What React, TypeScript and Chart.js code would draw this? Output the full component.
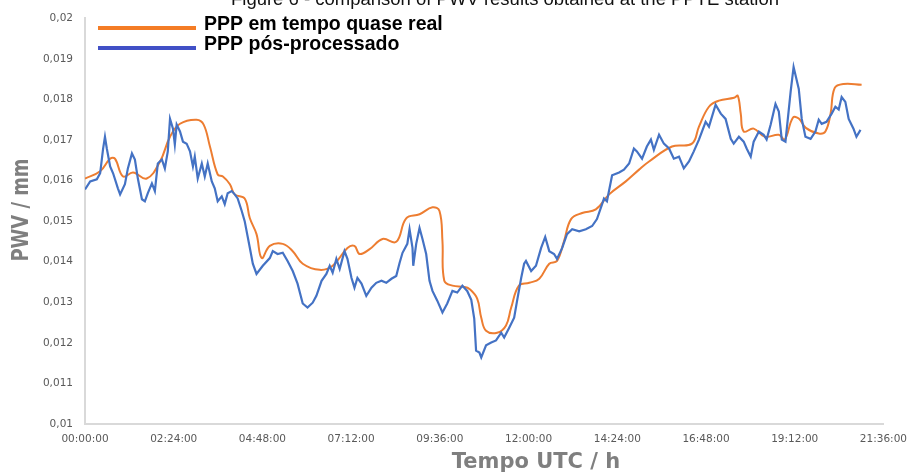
import React, { useEffect, useRef } from "react";
import { Chart, registerables } from "chart.js";

Chart.register(...registerables);

const figureTitle = "Figure 6 - comparison of PWV results obtained at the PPTE station";
const seriesNames = ["PPP em tempo quase real", "PPP pós-processado"];
const seriesColors = ["#ED7D31", "#4472C4"];
const legendColors = ["#F47C25", "#4150C6"];
const xAxisTitle = "Tempo UTC / h";
const yAxisTitle = "PWV / mm";

const xTickHours = [0, 2.4, 4.8, 7.2, 9.6, 12, 14.4, 16.8, 19.2, 21.6];
const yTickValues = [0.01, 0.011, 0.012, 0.013, 0.014, 0.015, 0.016, 0.017, 0.018, 0.019, 0.02];

// PPP em tempo quase real (hours UTC, PWV)
const realTimeHours = [
  0.0, 0.41, 0.68, 0.81, 1.03, 1.3, 1.67, 2.03, 2.3, 2.57, 3.02, 3.21, 3.38, 3.59, 3.73, 3.92,
  4.05, 4.32, 4.46, 4.64, 4.78, 5.0, 5.35, 5.62, 5.89, 6.35, 6.7, 7.1, 7.29, 7.43, 7.7, 8.05,
  8.42, 8.69, 9.05, 9.4, 9.59, 9.67, 9.72, 9.94, 10.26, 10.4, 10.61, 10.72, 10.85, 11.15, 11.39,
  11.53, 11.74, 12.02, 12.29, 12.56, 12.77, 12.96, 13.15, 13.45, 13.82, 14.18, 14.63, 14.99,
  15.26, 15.88, 16.42, 16.61, 16.88, 17.15, 17.56, 17.66, 17.74, 17.82, 18.09, 18.39, 18.77,
  18.93, 19.15, 19.31, 19.5, 19.85, 20.03, 20.17, 20.28, 20.52, 21.01,
];
const realTimePwv = [
  0.01605, 0.01623, 0.01654, 0.01654, 0.0161, 0.0162, 0.01605, 0.01647, 0.01708, 0.0174, 0.0175,
  0.01738, 0.01684, 0.01615, 0.0161, 0.01591, 0.01566, 0.01556, 0.01507, 0.01468, 0.01409,
  0.01439, 0.01444, 0.01426, 0.01395, 0.0138, 0.0139, 0.01434, 0.01439, 0.01419, 0.01431,
  0.01456, 0.01449, 0.01507, 0.01517, 0.01534, 0.01525, 0.01451, 0.01353, 0.01341, 0.01338,
  0.01333, 0.01309, 0.01262, 0.0123, 0.01225, 0.01243, 0.01287, 0.01341, 0.01348, 0.01358,
  0.01395, 0.01402, 0.01451, 0.01505, 0.0152, 0.01529, 0.01566, 0.01598, 0.01627, 0.01647,
  0.01684, 0.01691, 0.01733, 0.01782, 0.01797, 0.01804, 0.01809, 0.01765, 0.01721, 0.01728,
  0.01708, 0.01713, 0.01701, 0.01755, 0.01753, 0.0173, 0.01716, 0.01721, 0.01765, 0.01828,
  0.01838, 0.01836,
];

// PPP pós-processado (hours UTC, PWV)
const postHours = [
  0.0, 0.14, 0.32, 0.41, 0.49, 0.54, 0.59, 0.68, 0.76, 0.89, 0.95, 1.08, 1.16, 1.27, 1.35, 1.43,
  1.54, 1.62, 1.7, 1.81, 1.89, 1.97, 2.08, 2.16, 2.24, 2.3, 2.38, 2.43, 2.48, 2.57, 2.65, 2.75,
  2.84, 2.92, 2.97, 3.05, 3.16, 3.24, 3.32, 3.43, 3.51, 3.59, 3.7, 3.78, 3.86, 3.97, 4.05, 4.13,
  4.24, 4.32, 4.46, 4.54, 4.64, 4.81, 5.0, 5.08, 5.21, 5.35, 5.48, 5.62, 5.75, 5.89, 6.02, 6.16,
  6.26, 6.4, 6.53, 6.62, 6.7, 6.8, 6.89, 7.02, 7.1, 7.21, 7.29, 7.37, 7.48, 7.61, 7.75, 7.88,
  8.02, 8.15, 8.29, 8.42, 8.51, 8.59, 8.72, 8.78, 8.86, 8.88, 8.96, 9.05, 9.13, 9.23, 9.32, 9.4,
  9.53, 9.67, 9.8, 9.94, 10.07, 10.21, 10.34, 10.45, 10.53, 10.58, 10.67, 10.72, 10.85, 10.99,
  11.12, 11.26, 11.34, 11.48, 11.61, 11.69, 11.8, 11.88, 11.93, 12.07, 12.2, 12.34, 12.45, 12.56,
  12.69, 12.77, 12.91, 13.04, 13.18, 13.37, 13.55, 13.72, 13.85, 13.99, 14.04, 14.12, 14.26,
  14.45, 14.58, 14.72, 14.85, 14.93, 15.07, 15.2, 15.31, 15.39, 15.53, 15.66, 15.8, 15.93, 16.07,
  16.2, 16.34, 16.47, 16.61, 16.79, 16.88, 17.06, 17.2, 17.33, 17.47, 17.55, 17.69, 17.82, 17.9,
  18.01, 18.09, 18.23, 18.36, 18.44, 18.55, 18.68, 18.77, 18.85, 18.95, 19.09, 19.17, 19.31,
  19.39, 19.49, 19.63, 19.76, 19.85, 19.93, 20.06, 20.2, 20.3, 20.39, 20.47, 20.57, 20.66, 20.79,
  20.87, 20.98,
];
const postPwv = [
  0.01578, 0.01598, 0.01603, 0.01618, 0.01679, 0.01708, 0.01679, 0.01635, 0.01618, 0.01581,
  0.01566, 0.01591, 0.0163, 0.01667, 0.01652, 0.01605, 0.01554, 0.01549, 0.01569, 0.01593,
  0.01574, 0.01642, 0.01652, 0.0163, 0.01672, 0.01752, 0.01728, 0.01689, 0.01738, 0.01721,
  0.01696, 0.01691, 0.01672, 0.01635, 0.01659, 0.01605, 0.01642, 0.0161, 0.01642, 0.01598,
  0.01581, 0.01549, 0.01561, 0.01542, 0.01569, 0.01574, 0.01566, 0.01556, 0.01525, 0.015,
  0.01434, 0.01395, 0.0137, 0.0139, 0.01409, 0.01426, 0.01419, 0.01422, 0.01402, 0.01377,
  0.01346, 0.01297, 0.01287, 0.01299, 0.01316, 0.01353, 0.0137, 0.0139, 0.01373, 0.01407,
  0.01382, 0.01426, 0.01407, 0.0136, 0.01336, 0.0136, 0.01346, 0.01316, 0.01336, 0.01348,
  0.01353, 0.01348, 0.01358, 0.01365, 0.01397, 0.01422, 0.01444, 0.0148, 0.01434, 0.0139,
  0.01444, 0.01483, 0.01456, 0.01419, 0.01353, 0.01328, 0.01304, 0.01275, 0.01297, 0.01328,
  0.01324, 0.01341, 0.01328, 0.01306, 0.0126, 0.01181, 0.01176, 0.01164, 0.01194, 0.01201,
  0.01206, 0.01225, 0.01213, 0.01238, 0.01262, 0.01304, 0.0136, 0.01395, 0.01402, 0.01377,
  0.0139, 0.01434, 0.01461, 0.01426, 0.01419, 0.01407, 0.01434, 0.01468, 0.0148, 0.01475,
  0.0148, 0.01488, 0.01505, 0.01542, 0.01556, 0.01549, 0.01613, 0.0162, 0.01627, 0.01642,
  0.01679, 0.01672, 0.01654, 0.01684, 0.01701, 0.01676, 0.01713, 0.01691, 0.01679, 0.01654,
  0.01659, 0.0163, 0.01647, 0.01672, 0.01701, 0.01745, 0.01733, 0.01787, 0.01765, 0.01752,
  0.01703, 0.01691, 0.01708, 0.01696, 0.01679, 0.01659, 0.01696, 0.01721, 0.01713, 0.01701,
  0.01738, 0.01789, 0.0177, 0.01701, 0.01696, 0.01819, 0.0188, 0.01826, 0.01752, 0.01708,
  0.01703, 0.01721, 0.0175, 0.0174, 0.01745, 0.01765, 0.01782, 0.01775, 0.01806, 0.01794,
  0.01752, 0.01728, 0.01708, 0.01725,
];

const pad2 = (n: number) => (n < 10 ? "0" + n : "" + n);
const fmtHours = (h: number) => {
  const m = Math.round(h * 60);
  return `${pad2(Math.floor(m / 60))}:${pad2(m % 60)}:00`;
};
const fmtPwv = (v: number) => String(parseFloat(v.toFixed(4))).replace(".", ",");

function drawFit(ctx: CanvasRenderingContext2D, text: string, x: number, y: number, width: number) {
  const w = ctx.measureText(text).width;
  const s = w > 0 ? width / w : 1;
  ctx.save();
  ctx.translate(x, y);
  ctx.scale(s, 1);
  ctx.fillText(text, 0, 0);
  ctx.restore();
}

const decorPlugin = {
  id: "decor",
  afterDraw(chart: any) {
    const ctx: CanvasRenderingContext2D = chart.ctx;
    ctx.save();
    // cut-off figure caption
    ctx.fillStyle = "#111";
    ctx.font = '18.5px "Liberation Sans", Arial, sans-serif';
    ctx.textAlign = "center";
    ctx.textBaseline = "alphabetic";
    ctx.fillText(figureTitle, 505, 5);

    // legend
    const rows = [28, 48];
    ctx.textAlign = "left";
    ctx.font = 'bold 21px "Liberation Sans", Arial, sans-serif';
    seriesNames.forEach((name, i) => {
      ctx.strokeStyle = legendColors[i];
      ctx.lineWidth = 4;
      ctx.beginPath();
      ctx.moveTo(98, rows[i]);
      ctx.lineTo(196, rows[i]);
      ctx.stroke();
      ctx.fillStyle = "#000";
      ctx.textBaseline = "middle";
      const w = ctx.measureText(name).width;
      drawFit(ctx, name, 204, rows[i] - 4, w * 0.93);
    });

    // axis titles
    ctx.fillStyle = "#7F7F7F";
    ctx.font = 'bold 21px "DejaVu Sans", Verdana, sans-serif';
    ctx.textAlign = "center";
    ctx.textBaseline = "middle";
    ctx.fillText(xAxisTitle, 536, 463);

    ctx.save();
    ctx.translate(22, 210);
    ctx.rotate(-Math.PI / 2);
    ctx.font = 'bold 23px "DejaVu Sans", Verdana, sans-serif';
    drawFit(ctx, yAxisTitle, 0, 0, 103);
    ctx.restore();

    ctx.restore();
  },
};

export default function App() {
  const ref = useRef<HTMLCanvasElement | null>(null);

  useEffect(() => {
    if (!ref.current) return;
    const tickFont = { family: '"DejaVu Sans", Verdana, sans-serif', size: 10.5 };
    const chart = new Chart(ref.current, {
      type: "line",
      data: {
        datasets: [
          {
            label: seriesNames[0],
            data: realTimeHours.map((h, i) => ({ x: h, y: realTimePwv[i] })),
            borderColor: seriesColors[0],
            borderWidth: 2,
            pointRadius: 0,
            tension: 0.4,
            fill: false,
            order: 2,
          },
          {
            label: seriesNames[1],
            data: postHours.map((h, i) => ({ x: h, y: postPwv[i] })),
            borderColor: seriesColors[1],
            borderWidth: 2.2,
            pointRadius: 0,
            tension: 0,
            fill: false,
            order: 1,
          },
        ],
      },
      options: {
        animation: false,
        responsive: false,
        layout: { padding: { left: 0, top: 16, right: 31, bottom: 0 } },
        plugins: {
          legend: { display: false },
          tooltip: { enabled: false },
          title: { display: false },
        },
        scales: {
          x: {
            type: "linear",
            min: 0,
            max: 21.6,
            afterBuildTicks: (s: any) => {
              s.ticks = xTickHours.map((v) => ({ value: v }));
            },
            afterFit: (s: any) => {
              s.height = 51;
            },
            grid: { display: false, drawTicks: false },
            border: { display: true, color: "#D9D9D9", width: 2 },
            ticks: {
              padding: 9,
              maxRotation: 0,
              autoSkip: false,
              color: "#595959",
              font: tickFont,
              callback: (v: any) => fmtHours(Number(v)),
            },
          },
          y: {
            type: "linear",
            min: 0.01,
            max: 0.02,
            afterBuildTicks: (s: any) => {
              s.ticks = yTickValues.map((v) => ({ value: v }));
            },
            afterFit: (s: any) => {
              s.width = 85;
            },
            grid: { display: false, drawTicks: false },
            border: { display: true, color: "#D9D9D9", width: 2 },
            ticks: {
              padding: 12,
              autoSkip: false,
              color: "#595959",
              font: tickFont,
              callback: (v: any) => fmtPwv(Number(v)),
            },
          },
        },
      },
      plugins: [decorPlugin],
    });
    return () => chart.destroy();
  }, []);

  return (
    <div style={{ position: "absolute", left: 0, top: 0, width: 916, height: 475, background: "#fff" }}>
      <canvas ref={ref} width={916} height={475} style={{ display: "block" }} />
    </div>
  );
}
